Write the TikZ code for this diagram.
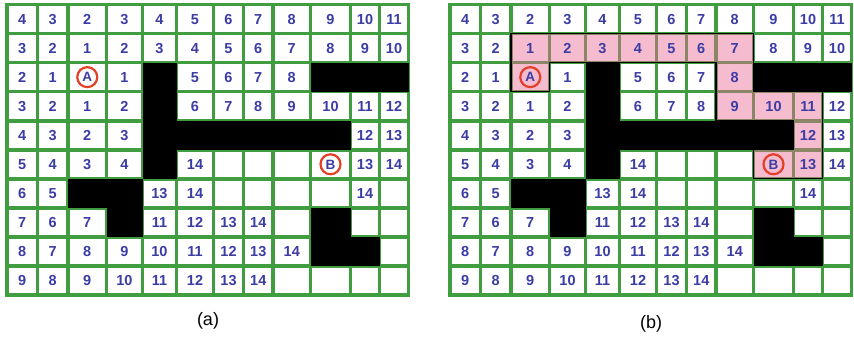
\documentclass[tikz,border=0pt]{standalone}
\usepackage{fontspec}
\setmainfont{Liberation Sans}
\usetikzlibrary{calc}
\definecolor{gridgreen}{RGB}{64,158,64}
\definecolor{numblue}{RGB}{60,60,165}
\definecolor{ringred}{RGB}{228,64,40}
\definecolor{pathpink}{RGB}{235,105,150}
\tikzset{
  gridline/.style={draw=gridgreen, line width=3.6pt, line cap=rect},
  wall/.style={fill=black},
  num/.style={text=numblue, font=\fontsize{14.5}{15}\selectfont\bfseries, inner sep=0pt,
    text height=10.4pt, text depth=0pt},
  endpt/.style={circle, draw=ringred, line width=2.2pt, minimum size=20pt, inner sep=0pt,
    text=numblue, font=\fontsize{13.5}{14}\selectfont\bfseries, text height=9.7pt, text depth=0pt},
  pathcells/.style={fill=pathpink, fill opacity=0.45},
  pathedge/.style={draw=black, line width=1.1pt, line join=miter},
  caption/.style={font=\fontsize{18}{20}\selectfont, inner sep=0pt}
}
\def\mazerows{{4,3,2,3,4,5,6,7,8,9,10,11},
{3,2,1,2,3,4,5,6,7,8,9,10},
{2,1,{},1,{},5,6,7,8,{},{},{}},
{3,2,1,2,{},6,7,8,9,10,11,12},
{4,3,2,3,{},{},{},{},{},{},12,13},
{5,4,3,4,{},14,{},{},{},{},13,14},
{6,5,{},{},13,14,{},{},{},{},14,{}},
{7,6,7,{},11,12,13,14,{},{},{},{}},
{8,7,8,9,10,11,12,13,14,{},{},{}},
{9,8,9,10,11,12,13,14,{},{},{},{}}}
\newcommand{\mazegrid}[2]{%
  \foreach \v [count=\i from 0] in {0,30.5,61,99.5,135.5,169.5,206.5,236.5,266,303.5,343.5,372.5,401.5}
    {\coordinate (#1-v\i) at (#2+\v,0);}
  \foreach \j in {0,...,10}
    {\coordinate (#1-h\j) at (0,4.5+29.05*\j);}
  \fill[white] (#1-v0 |- #1-h0) rectangle (#1-v12 |- #1-h10);
  \foreach \i in {0,...,12}
    {\draw[gridline] (#1-v\i |- #1-h0) -- (#1-v\i |- #1-h10);}
  \foreach \j in {0,...,10}
    {\draw[gridline] (#1-v0 |- #1-h\j) -- (#1-v12 |- #1-h\j);}
  \fill[wall] (#1-v4 |- #1-h2) rectangle (#1-v5 |- #1-h6);
  \fill[wall] (#1-v4 |- #1-h4) rectangle (#1-v10 |- #1-h5);
  \fill[wall] (#1-v2 |- #1-h6) rectangle (#1-v4 |- #1-h7);
  \fill[wall] (#1-v3 |- #1-h7) rectangle (#1-v4 |- #1-h8);
  \fill[wall] (#1-v9 |- #1-h2) rectangle (#1-v12 |- #1-h3);
  \fill[wall] (#1-v9 |- #1-h7) rectangle (#1-v10 |- #1-h9);
  \fill[wall] (#1-v10 |- #1-h8) rectangle (#1-v11 |- #1-h9);
}
\newcommand{\mazenumbers}[1]{%
  \foreach \rowvals [count=\rr] in \mazerows {
    \pgfmathtruncatemacro\r{\rr-1}
    \foreach \val [count=\cc] in \rowvals {
      \pgfmathtruncatemacro\c{\cc-1}
      \node[num] (#1-n\r-\c) at ($(#1-v\c |- #1-h\r)!0.5!(#1-v\cc |- #1-h\rr)$) {\val};
    }
  }
  \node[endpt] (#1-A) at ($(#1-v2 |- #1-h2)!0.5!(#1-v3 |- #1-h3)$) {A};
  \node[endpt] (#1-B) at ($(#1-v9 |- #1-h5)!0.5!(#1-v10 |- #1-h6)$) {B};
}
\begin{document}
\begin{tikzpicture}[x=1pt,y=-1pt]
\useasboundingbox (0,0) rectangle (854,338);
\fill[white] (0,0) rectangle (854,338);
\mazegrid{a}{7}
\mazegrid{b}{450}
\fill[pathcells] (b-v2 |- b-h1) -- (b-v9 |- b-h1) -- (b-v9 |- b-h3) -- (b-v11 |- b-h3)
  -- (b-v11 |- b-h6) -- (b-v9 |- b-h6) -- (b-v9 |- b-h5) -- (b-v10 |- b-h5)
  -- (b-v10 |- b-h4) -- (b-v8 |- b-h4) -- (b-v8 |- b-h2) -- (b-v3 |- b-h2)
  -- (b-v3 |- b-h3) -- (b-v2 |- b-h3) -- cycle;
\draw[pathedge] (b-v2 |- b-h1) -- (b-v9 |- b-h1) -- (b-v9 |- b-h3) -- (b-v11 |- b-h3)
  -- (b-v11 |- b-h6) -- (b-v9 |- b-h6) -- (b-v9 |- b-h5) -- (b-v10 |- b-h5)
  -- (b-v10 |- b-h4) -- (b-v8 |- b-h4) -- (b-v8 |- b-h2) -- (b-v3 |- b-h2)
  -- (b-v3 |- b-h3) -- (b-v2 |- b-h3) -- cycle;
\mazenumbers{a}
\mazenumbers{b}
\node[caption] (capa) at (208,321) {(a)};
\node[caption] (capb) at (651,324) {(b)};
\end{tikzpicture}
\end{document}
